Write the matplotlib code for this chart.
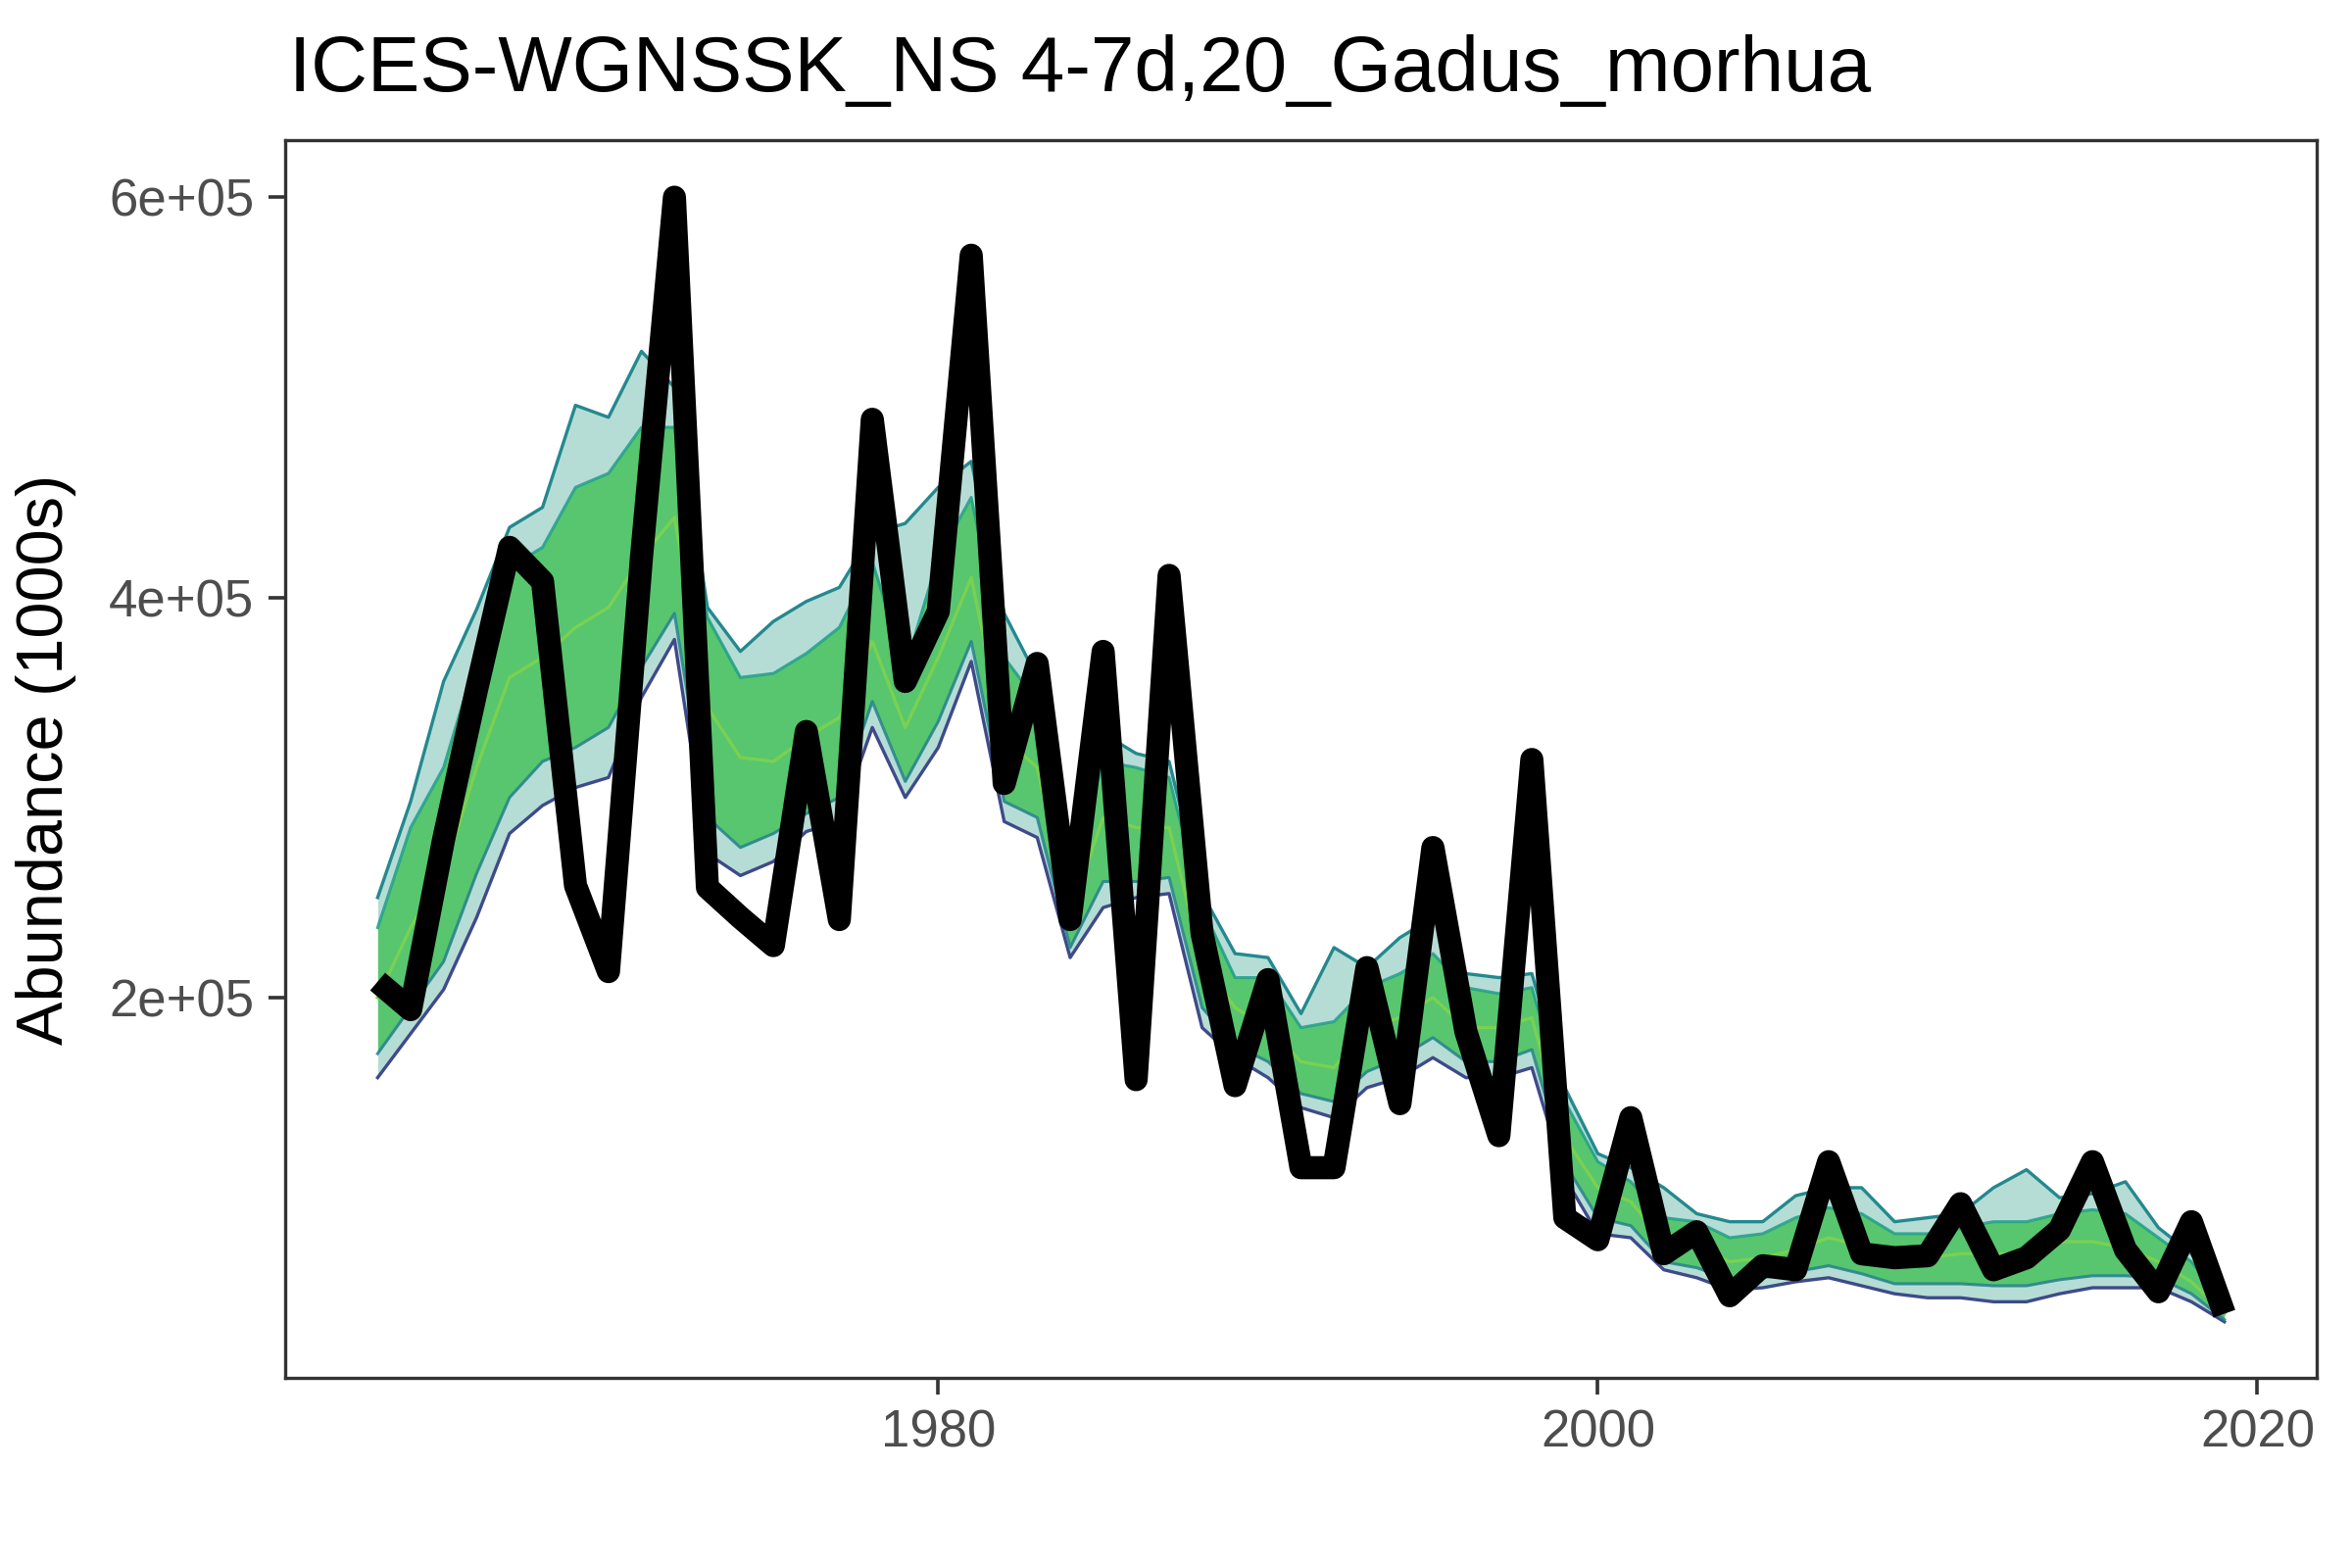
import numpy as np
import matplotlib
matplotlib.use("Agg")
import matplotlib.pyplot as plt

plt.rcParams['font.family'] = ['Liberation Sans', 'DejaVu Sans']

# years of the series
years = list(range(1963, 2020))

# observed abundance (black line), 1000s
observed = [208000, 194000, 279000, 354000, 425000, 408000, 256000, 213000, 420000, 600000,
            255000, 240000, 226000, 333000, 239000, 489000, 358000, 393000, 571000, 307000,
            367000, 239000, 373000, 159000, 411000, 232000, 156000, 209000, 115000, 115000,
            215000, 147000, 275000, 183000, 131000, 319000, 90000, 79000, 140000, 72000,
            83000, 51000, 66000, 64000, 118000, 72000, 70000, 71000, 97000, 64000,
            70000, 84000, 118000, 74000, 53000, 88000, 42000]

# simulated ensemble, read as envelope / core band / middle per year (1000s)
ens_min = [160, 182, 204, 240, 282, 296, 305, 310, 350, 379,
           272, 261, 268, 283, 288, 335, 300, 325, 368, 288,
           280, 220, 245, 250, 252, 185, 170, 160, 145, 140,
           155, 160, 170, 160, 160, 165, 110, 82, 80, 64,
           60, 54, 55, 58, 60, 56, 52, 50, 50, 48,
           48, 52, 55, 55, 55, 48, 38]
ens_core_lo = [172, 195, 218, 262, 300, 318, 325, 335, 365, 392,
               290, 275, 282, 292, 300, 348, 308, 338, 378, 298,
               290, 225, 258, 258, 260, 195, 176, 168, 152, 148,
               163, 170, 180, 168, 168, 174, 117, 90, 86, 68,
               65, 59, 60, 63, 66, 62, 57, 57, 57, 56,
               56, 59, 61, 61, 60, 52, 39]
ens_mid = [200, 235, 262, 315, 360, 370, 385, 395, 420, 440,
           345, 320, 318, 330, 340, 378, 335, 370, 410, 330,
           315, 242, 290, 285, 285, 218, 195, 185, 168, 165,
           185, 190, 200, 185, 185, 190, 130, 105, 98, 78,
           76, 68, 70, 74, 80, 76, 70, 70, 72, 72,
           72, 78, 78, 75, 68, 58, 42]
ens_core_hi = [235, 285, 315, 370, 415, 425, 455, 462, 485, 485,
               390, 360, 362, 372, 385, 418, 365, 420, 450, 370,
               348, 262, 318, 315, 310, 245, 210, 210, 185, 188,
               205, 212, 222, 205, 202, 205, 148, 118, 108, 90,
               88, 80, 82, 90, 95, 92, 82, 82, 85, 88,
               88, 92, 94, 92, 80, 68, 47]
ens_max = [250, 298, 358, 394, 435, 445, 496, 490, 523, 505,
           395, 373, 388, 398, 405, 432, 437, 455, 468, 392,
           360, 275, 332, 322, 318, 252, 222, 220, 192, 225,
           215, 230, 240, 212, 210, 212, 155, 122, 115, 105,
           92, 88, 88, 101, 105, 105, 88, 90, 92, 105,
           114, 100, 102, 108, 85, 72, 50]

x = np.array(years)
k = 1000
lo = np.array(ens_min) * k
clo = np.array(ens_core_lo) * k
mid = np.array(ens_mid) * k
chi = np.array(ens_core_hi) * k
hi = np.array(ens_max) * k

fig = plt.figure(figsize=(12, 8), dpi=200)
ax = fig.add_axes([0.1213, 0.1213, 0.985 - 0.1213, 0.9106 - 0.1213])

# ensemble spaghetti approximated by its bands and edge lines
ax.fill_between(x, lo, hi, color='#2E9E89', alpha=0.35, lw=0)
ax.fill_between(x, clo, chi, color='#52C569', alpha=0.95, lw=0)
ax.plot(x, lo, color='#3E4A89', lw=1.2)
ax.plot(x, hi, color='#23898E', lw=1.2)
ax.plot(x, clo, color='#26828E', lw=1.1, alpha=0.85)
ax.plot(x, chi, color='#1F9E89', lw=1.1, alpha=0.85)
ax.plot(x, mid, color='#7AD151', lw=1.2)

ax.plot(x, observed, color='black', lw=8.5, solid_joinstyle='round', solid_capstyle='butt')

ax.set_xlim(1960.2, 2021.8)
ax.set_ylim(10000, 628500)
ax.set_xticks([1980, 2000, 2020])
ax.set_yticks([200000, 400000, 600000])
ax.set_yticklabels(['2e+05', '4e+05', '6e+05'])

for s in ax.spines.values():
    s.set_color('#333333')
    s.set_linewidth(1.2)
ax.tick_params(colors='#333333', labelcolor='#4D4D4D', labelsize=19, length=6, width=1.3, pad=5.5)

ax.set_ylabel('Abundance (1000s)', fontsize=24, labelpad=12)
fig.text(0.123, 0.942, 'ICES-WGNSSK_NS 4-7d,20_Gadus_morhua', fontsize=28.8, ha='left', va='baseline')

fig.savefig('out.png', dpi=200)
